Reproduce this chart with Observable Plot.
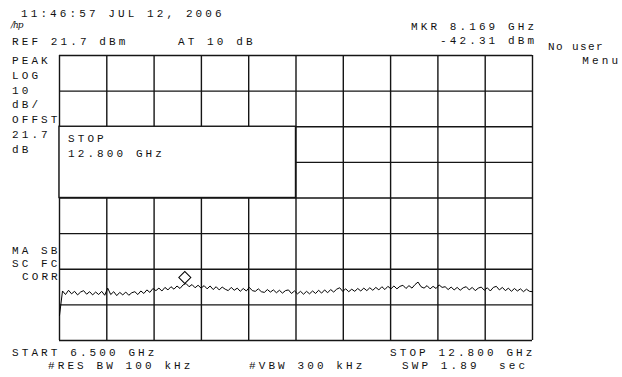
<!DOCTYPE html>
<html><head><meta charset="utf-8">
<script src="https://cdn.jsdelivr.net/npm/d3@7"></script>
<script src="https://cdn.jsdelivr.net/npm/@observablehq/plot@0.6"></script>
<style>
body{margin:0;background:#fff;}
#wrap{position:relative;width:622px;height:377px;overflow:hidden;}
.t{position:absolute;font-family:"Liberation Mono",monospace;font-size:11px;letter-spacing:3.1px;color:#111;white-space:pre;line-height:10px;height:10px;}
</style></head><body><div id="wrap"></div>
<script>
// ---- data ----
const startGHz = 6.5, stopGHz = 12.8;
const refLevel = 21.7, dbPerDiv = 10, numDivsY = 8;
const xDivs = [6.5, 7.13, 7.76, 8.39, 9.02, 9.65, 10.28, 10.91, 11.54, 12.17, 12.8];
const yDivs = [21.7, 11.7, 1.7, -8.3, -18.3, -28.3, -38.3, -48.3, -58.3];
const traceDbm = [
 -51.3,
 -44.4,-45.4,-44.2,-45.2,-44.5,-45.5,-44.7,-44.3,-45.3,-44.6,-45.5,-44.7,-45.4,-44.5,-45.6,
 -43.6,
 -45.4,-44.6,-45.7,-44.8,-45.5,-44.7,-45.6,-44.9,-44.6,-45.4,-44.4,-45.1,-44.1,-44.8,-43.7,
 -44.3,-43.6,-44.4,-43.4,-44.1,-43.2,-43.9,-43.0,-43.7,-42.7,-42.3,-43.2,-42.6,-43.5,-42.8,-43.6,
 -42.9,-43.8,-43.0,-44.0,-43.2,-44.1,-43.3,-43.9,-44.3,-43.4,-44.2,-43.6,-44.5,-43.7,-44.4,-43.4,-44.3,
 -44.5,-43.8,-44.6,-44.8,-44.0,-44.7,-44.1,-44.9,-44.2,-45.0,-44.3,-44.1,-45.1,-44.4,-45.2,-44.5,
 -45.3,-44.5,-45.2,-44.4,-45.1,-44.2,-45.0,-44.1,-44.9,-44.0,-44.7,-43.9,-43.5,
 -44.5,-43.8,-44.6,-43.9,-44.5,-43.7,-44.4,-43.6,-44.3,-43.5,-44.2,-43.4,-44.1,-43.2,-44.0,-43.1,-43.8,
 -43.0,-43.8,-43.1,-42.8,-43.7,-42.9,-43.6,-42.6,-41.9,
 -43.2,-43.6,-42.9,-43.8,-43.1,-43.7,-42.7,-43.4,
 -43.2,-44.0,-43.3,-44.1,-43.4,-44.2,-43.5,-43.2,-44.1,-43.4,
 -44.3,-43.6,-43.3,-44.2,-43.5,-44.4,-43.4,-43.1,-44.1,-43.4,
 -44.3,-43.6,-44.5,-43.7,-44.4,-43.8,-44.6,-43.9,-44.5,-44.6
];
const markerFreq = [8.169];
const markerDbm = [-42.31];
// STOP entry box spans grid divisions (column and row indices)
const stopBoxCols = [0, 5];
const stopBoxRows = [2, 4];

const headerLabels = ["11:46:57 JUL 12, 2006", "REF 21.7 dBm", "AT 10 dB", "MKR 8.169 GHz", "-42.31 dBm"];
const leftLabels = ["PEAK", "LOG", "10", "dB/", "OFFST", "21.7", "dB"];
const lowerLeftLabels = ["MA SB", "SC FC", "CORR"];
const footerLabels = ["START 6.500 GHz", "#RES BW 100 kHz", "#VBW 300 kHz", "STOP 12.800 GHz", "SWP 1.89  sec"];
const menuLabels = ["No user", "Menu"];
const stopBoxLabels = ["STOP", "12.800 GHz"];
const logoLabel = "/hp";

// ---- chart ----
const n = traceDbm.length;
const points = traceDbm.map((v, i) => ({f: startGHz + i * (stopGHz - startGHz) / (n - 1), dbm: v}));
const marker = markerFreq.map((f, i) => ({f, dbm: markerDbm[i]}));
const box = [{x1: xDivs[stopBoxCols[0]], x2: xDivs[stopBoxCols[1]], y1: yDivs[stopBoxRows[0]], y2: yDivs[stopBoxRows[1]]}];

const gridColor = "#151515";
const chart = Plot.plot({
  width: 622, height: 377,
  marginLeft: 59, marginRight: 90, marginTop: 55, marginBottom: 37,
  x: {domain: [startGHz, stopGHz], axis: null},
  y: {domain: [refLevel - numDivsY * dbPerDiv, refLevel], axis: null},
  style: {background: "white"},
  marks: [
    Plot.ruleX(xDivs, {stroke: gridColor, strokeWidth: 1.4}),
    Plot.ruleY(yDivs, {stroke: gridColor, strokeWidth: 1.4}),
    Plot.rect(box, {x1: "x1", x2: "x2", y1: "y1", y2: "y2", fill: "white", stroke: gridColor, strokeWidth: 1.4}),
    Plot.line(points, {x: "f", y: "dbm", stroke: "#000", strokeWidth: 1}),
    Plot.dot(marker, {x: "f", y: "dbm", symbol: "square", rotate: 45, r: 4.8, fill: "white", stroke: "#000", strokeWidth: 1, dy: -6})
  ]
});
const wrap = document.getElementById("wrap");
wrap.appendChild(chart);

// ---- text overlay ----
function label(text, opts) {
  const d = document.createElement("div");
  d.className = "t";
  d.textContent = text;
  d.style.top = (opts.base - 8) + "px";
  if (opts.right != null) d.style.right = (622 - opts.right - 3.1) + "px";
  else d.style.left = opts.left + "px";
  if (opts.style) Object.assign(d.style, opts.style);
  wrap.appendChild(d);
}
label(headerLabels[0], {left: 21, base: 17});
label(logoLabel, {left: 11, base: 28, style: {fontFamily: "'DejaVu Serif', serif", fontStyle: "italic", fontSize: "9px", letterSpacing: "-1px"}});
label(headerLabels[1], {left: 12, base: 45});
label(headerLabels[2], {left: 178, base: 45});
label(headerLabels[3], {right: 534, base: 30});
label(headerLabels[4], {right: 534, base: 44});
label(menuLabels[0], {left: 548, base: 50, style: {letterSpacing: "1.4px"}});
label(menuLabels[1], {right: 618, base: 64});
const leftBases = [64, 79, 94, 108, 123, 138, 153];
leftLabels.forEach((s, i) => label(s, {left: 12, base: leftBases[i]}));
const lowBases = [254, 267, 280];
lowerLeftLabels.forEach((s, i) => label(s, {left: i === 2 ? 22 : 12, base: lowBases[i]}));
label(footerLabels[0], {left: 12, base: 356});
label(footerLabels[1], {left: 48, base: 369});
label(footerLabels[2], {left: 249, base: 369});
label(footerLabels[3], {left: 390, base: 356});
label(footerLabels[4], {left: 402, base: 369});
label(stopBoxLabels[0], {left: 68, base: 142});
label(stopBoxLabels[1], {left: 68, base: 157});
</script></body></html>
